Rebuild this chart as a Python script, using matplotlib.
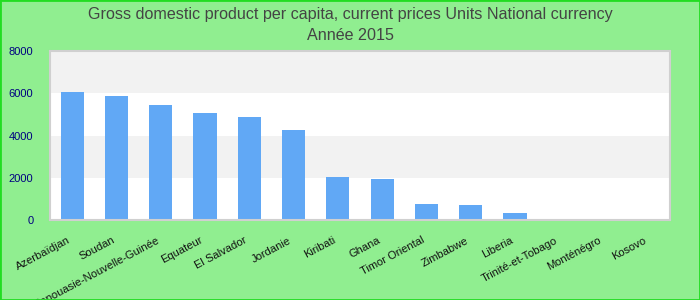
import matplotlib
matplotlib.use("Agg")
import matplotlib.pyplot as plt
import matplotlib.transforms as mtransforms
import numpy as np

categories = ["Azerbaïdjan", "Soudan", "Papouasie-Nouvelle-Guinée", "Equateur", "El Salvador",
              "Jordanie", "Kiribati", "Ghana", "Timor Oriental", "Zimbabwe", "Liberia",
              "Trinité-et-Tobago", "Monténégro", "Kosovo"]
values = [6050, 5860, 5435, 5055, 4865, 4250, 2030, 1940, 756, 710, 331, 0, 0, 0]
yticks = [0, 2000, 4000, 6000, 8000]

plt.rcParams['font.family'] = ['Liberation Sans', 'DejaVu Sans']

fig = plt.figure(figsize=(7, 3), dpi=100, facecolor='#90ee90')
ax = fig.add_axes([50/700, 80/300, 620/700, 169/300])
ax.set_facecolor('white')

for i in range(len(yticks) - 1):
    if i % 2 == 1:
        ax.axhspan(yticks[i], yticks[i+1], color='#f2f2f2', zorder=0, lw=0)

x = np.arange(len(categories))
ax.bar(x, values, width=0.52, color='#61a8f5', zorder=2)
ax.set_xlim(-0.5, len(categories) - 0.5)
ax.set_ylim(0, 8000)
ax.set_yticks(yticks)
ax.set_yticklabels([str(v) for v in yticks], color='#000080', fontsize=8)
ax.tick_params(axis='y', length=0, pad=12)
ax.set_xticks(x)
ax.set_xticklabels(categories, rotation=28, ha='right', rotation_mode='anchor', fontsize=8, color='#111111')
ax.tick_params(axis='x', length=0, pad=11)
offset = mtransforms.ScaledTranslation(-5/100, 0, fig.dpi_scale_trans)
for lbl in ax.get_xticklabels():
    lbl.set_transform(lbl.get_transform() + offset)
for s in ax.spines.values():
    s.set_color('#d0d0d0')
    s.set_linewidth(1.5)

fig.text(0.5, 1 - 14/300, "Gross domestic product per capita, current prices Units National currency",
         ha='center', va='center', fontsize=11.6, color='#444444')
fig.text(0.5, 1 - 35/300, "Année 2015", ha='center', va='center', fontsize=11.6, color='#444444')

border = plt.Rectangle((0, 0), 1, 1, transform=fig.transFigure, fill=False,
                       edgecolor='#22dd22', linewidth=2)
fig.patches.append(border)

fig.savefig("out.png", dpi=100, facecolor=fig.get_facecolor())
